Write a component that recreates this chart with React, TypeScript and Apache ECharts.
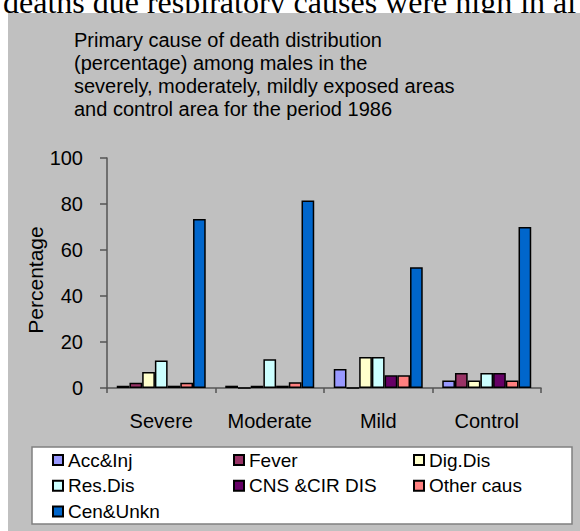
import React, { useEffect, useRef } from "react";
import * as echarts from "echarts";

const categories = ["Severe", "Moderate", "Mild", "Control"];
const seriesNames = ["Acc&Inj", "Fever", "Dig.Dis", "Res.Dis", "CNS &CIR DIS", "Other caus", "Cen&Unkn"];
const accInj = [1, 1, 8.3, 3.3];
const fever = [2.3, 0, 0, 6.5];
const digDis = [7, 1, 13.5, 3.3];
const resDis = [12, 12.5, 13.5, 6.5];
const cnsCir = [1, 1, 5.5, 6.5];
const otherCaus = [2.3, 2.5, 5.5, 3.3];
const cenUnkn = [73.5, 81.5, 52.5, 70];
const seriesValues = [accInj, fever, digDis, resDis, cnsCir, otherCaus, cenUnkn];
const seriesColors = ["#9999FF", "#993366", "#FFFFCC", "#CCFFFF", "#660066", "#FF8080", "#0066CC"];
const titleLines = [
  "Primary cause of death distribution",
  "(percentage) among males in the",
  "severely, moderately, mildly exposed areas",
  "and control area for the period 1986",
];
const yAxisName = "Percentage";
const topText = "deaths due respiratory causes were high in al";
const legendColumns = [
  ["Acc&Inj", "Res.Dis", "Cen&Unkn"],
  ["Fever", "CNS &CIR DIS"],
  ["Dig.Dis", "Other caus"],
];

const SANS = "'Liberation Sans', Arial, sans-serif";

export default function App() {
  const ref = useRef<HTMLDivElement>(null);
  useEffect(() => {
    if (!ref.current) return;
    const chart = echarts.init(ref.current, null, { renderer: "svg" });
    const legendLefts = [52, 233, 413];
    chart.setOption({
      animation: false,
      backgroundColor: "#ffffff",
      textStyle: { fontFamily: SANS },
      graphic: [
        {
          type: "text",
          x: 3,
          y: 1.5,
          z: 0,
          style: {
            text: topText,
            font: "32px 'Liberation Serif', 'Times New Roman', serif",
            fill: "#000",
            verticalAlign: "middle",
            align: "left",
          },
        },
        {
          type: "rect",
          z: 0,
          shape: { x: 8, y: 13, width: 600, height: 540 },
          style: { fill: "#C0C0C0" },
        },
        {
          type: "rect",
          z: 1,
          shape: { x: 32, y: 447, width: 540, height: 77 },
          style: { fill: "#ffffff", stroke: "#808080", lineWidth: 1.5 },
        },
        {
          type: "text",
          z: 5,
          x: 35,
          y: 280,
          rotation: Math.PI / 2,
          style: {
            text: yAxisName,
            font: "21px 'Liberation Sans', Arial, sans-serif",
            fill: "#000",
            align: "center",
            verticalAlign: "middle",
          },
        },
      ],
      title: {
        text: titleLines.join("\n"),
        left: 74,
        top: 28,
        padding: 0,
        textStyle: {
          fontFamily: SANS,
          fontSize: 20,
          fontWeight: "normal",
          lineHeight: 23,
          color: "#000",
        },
      },
      legend: legendColumns.map((col, i) => ({
        data: col,
        left: legendLefts[i],
        top: 450.5,
        orient: "vertical",
        padding: 0,
        itemGap: 6.7,
        itemWidth: 10,
        itemHeight: 10,
        icon: "rect",
        selectedMode: false,
        textStyle: { fontFamily: SANS, fontSize: 19, color: "#000", lineHeight: 19 },
      })),
      grid: {
        left: 107,
        right: 39,
        top: 158,
        bottom: 143,
        show: true,
        borderColor: "#888888",
        borderWidth: 1.5,
        backgroundColor: "transparent",
      },
      xAxis: {
        type: "category",
        data: categories,
        axisLine: { lineStyle: { color: "#555", width: 1.5 } },
        axisTick: { show: true, length: 5, lineStyle: { color: "#555", width: 1.5 } },
        axisLabel: { fontFamily: SANS, fontSize: 20, color: "#000", margin: 23, interval: 0, hideOverlap: false },
      },
      yAxis: {
        type: "value",
        min: 0,
        max: 100,
        interval: 20,
        axisLine: { show: true, lineStyle: { color: "#555", width: 1.5 } },
        axisTick: { show: true, length: 7, lineStyle: { color: "#555", width: 1.5 } },
        axisLabel: { fontFamily: SANS, fontSize: 20, color: "#000", margin: 24 },
        splitLine: { show: false },
      },
      series: seriesNames.map((name, i) => ({
        name,
        type: "bar",
        data: seriesValues[i],
        barGap: "0%",
        barCategoryGap: "18%",
        itemStyle: { color: seriesColors[i], borderColor: "#000", borderWidth: 1.5 },
      })),
    });
    return () => chart.dispose();
  }, []);
  return (
    <div
      ref={ref}
      style={{ position: "absolute", left: 0, top: 0, width: 580, height: 531 }}
    />
  );
}
